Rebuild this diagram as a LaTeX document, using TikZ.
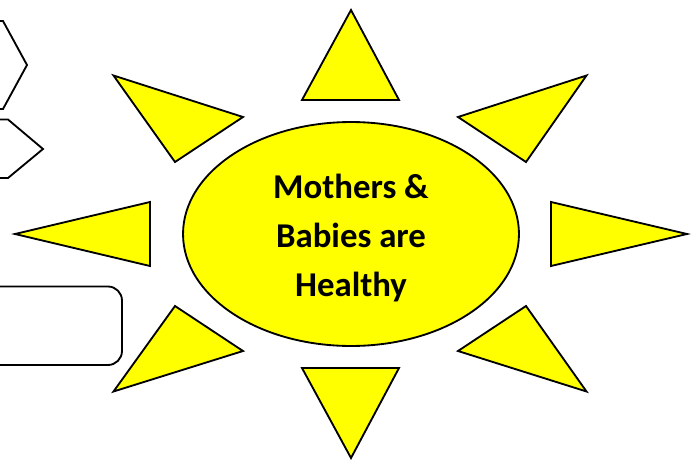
\documentclass[tikz,border=0pt]{standalone}
\usepackage{fontspec}
\setmainfont{Carlito}
\usetikzlibrary{shapes.geometric}
\definecolor{sunyellow}{RGB}{255,255,0}
\tikzset{
  sunpart/.style={fill=sunyellow, draw=black, line width=1.05pt, line join=miter},
  sideshape/.style={fill=white, draw=black, line width=1.05pt}
}

\begin{document}
\begin{tikzpicture}[x=0.02cm, y=-0.02cm]

  \useasboundingbox (0,0) rectangle (696,460);
  \clip (0,0) rectangle (696,460);

  % Side shapes
  \draw[sideshape] (-5,21) -- (3,21) -- (27,65) -- (3,109) -- (-5,109);
  \draw[sideshape] (-5,119.5) -- (8,119.5) -- (43,149) -- (8,178) -- (-5,178);
  \draw[sideshape, rounded corners=8pt] (-20,286.5) rectangle (122,365);

  % Rays
  \foreach \ax/\ay/\bx/\by/\cx/\cy in {
    351/10/302/100/399/100,
    351/458/302/368/399/368,
    15/234/150/202/150/266,
    687/234/551/202/551/266,
    113.5/75.5/243/117/175/162,
    586.5/75.5/458/117/526/162,
    113.5/391.5/243/351/175/306,
    586.5/391.5/458/351/526/306
  }{
    \draw[sunpart] (\ax,\ay) -- (\bx,\by) -- (\cx,\cy) -- cycle;
  }

  % Centre
  \node[ellipse, sunpart, minimum width=6.72cm, minimum height=4.48cm, inner sep=0pt] (sun) at (351,234) {};
  \node[font=\fontsize{19.8}{28}\selectfont\bfseries, align=center] (sunlabel) at (351,238) {Mothers \&\\Babies are\\Healthy};

\end{tikzpicture}
\end{document}
